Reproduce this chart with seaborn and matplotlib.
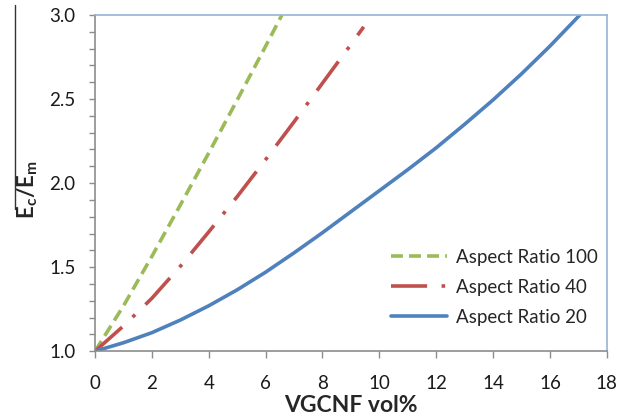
import numpy as np
import pandas as pd
import matplotlib
matplotlib.use("Agg")
import matplotlib.pyplot as plt
from matplotlib.lines import Line2D
from matplotlib.ticker import MultipleLocator
import seaborn as sns

# ---- data ----
x_ar100 = [0, 1, 2, 3, 4, 5, 6, 6.57]
y_ar100 = [1.0, 1.27, 1.565, 1.87, 2.18, 2.495, 2.815, 3.0]

x_ar40 = [0, 1, 2, 3, 4, 5, 6, 7, 8, 9, 9.45]
y_ar40 = [1.0, 1.15, 1.315, 1.505, 1.71, 1.92, 2.14, 2.365, 2.595, 2.825, 2.93]

x_ar20 = [0, 1, 2, 3, 4, 5, 6, 7, 8, 9, 10, 11, 12, 13, 14, 15, 16, 17.05]
y_ar20 = [1.0, 1.05, 1.11, 1.185, 1.27, 1.365, 1.47, 1.585, 1.705, 1.83,
          1.955, 2.08, 2.21, 2.35, 2.495, 2.65, 2.815, 3.0]

labels = ["Aspect Ratio 100", "Aspect Ratio 40", "Aspect Ratio 20"]
x_ticks = [0, 2, 4, 6, 8, 10, 12, 14, 16, 18]
y_ticks = [1.0, 1.5, 2.0, 2.5, 3.0]

sns.set_theme(style="white")
plt.rcParams["font.family"] = ["Lato", "DejaVu Sans"]
plt.rcParams["mathtext.fontset"] = "custom"
plt.rcParams["mathtext.rm"] = "Lato"
plt.rcParams["mathtext.it"] = "Lato:italic"
plt.rcParams["mathtext.bf"] = "Lato:bold"

fig = plt.figure(figsize=(6.34, 4.19), dpi=100)
ax = fig.add_axes([0.150, 0.162, 0.807, 0.802])

series = [
    (x_ar100, y_ar100, labels[0], "#9BBB59", (0, (3.3, 1.7))),
    (x_ar40, y_ar40, labels[1], "#C0504D", (0, (10, 4, 1, 4))),
    (x_ar20, y_ar20, labels[2], "#4F81BD", "-"),
]
for xs, ys, lab, col, ls in series:
    df = pd.DataFrame({"x": xs, "y": ys})
    sns.lineplot(data=df, x="x", y="y", ax=ax, color=col, linewidth=2.6,
                 linestyle=ls, label=lab, sort=False)

ax.set_xlim(0, 18)
ax.set_ylim(1.0, 3.0)
ax.set_xticks(x_ticks)
ax.set_yticks(y_ticks)
ax.set_xticklabels([str(t) for t in x_ticks])
ax.set_yticklabels([f"{t:.1f}" for t in y_ticks])
ax.yaxis.set_minor_locator(MultipleLocator(0.1))

ax.tick_params(axis="both", which="both", direction="out", color="#8C8C8C",
               labelsize=13.5, labelcolor="#1a1a1a")
ax.tick_params(axis="x", which="major", length=5, width=1, bottom=True, pad=12)
ax.tick_params(axis="y", which="major", length=4, width=1, left=True, pad=10)
ax.tick_params(axis="y", which="minor", length=4, width=1, left=True)

for s in ["left", "bottom"]:
    ax.spines[s].set_color("#8C8C8C")
    ax.spines[s].set_linewidth(1.2)
for s in ["top", "right"]:
    ax.spines[s].set_color("#95B3D7")
    ax.spines[s].set_linewidth(1.2)

ax.set_xlabel("VGCNF vol%", fontsize=16.5, fontweight="bold", labelpad=2)
ax.set_ylabel(r"$\mathbf{E_c/E_m}$", fontsize=16)
ax.yaxis.set_label_coords(-0.108, 0.482)

leg = ax.legend(loc="lower right", bbox_to_anchor=(1.015, 0.025), frameon=False,
                fontsize=13.5, handlelength=3.0, labelspacing=0.7,
                handletextpad=0.45)

# thin vertical rule beside the y label, as in the reference
fig.add_artist(Line2D([15 / 634, 15 / 634], [1 - 5 / 419, 1 - 209 / 419],
                      color="#333333", linewidth=1.0))

fig.savefig("out.png", dpi=100)
